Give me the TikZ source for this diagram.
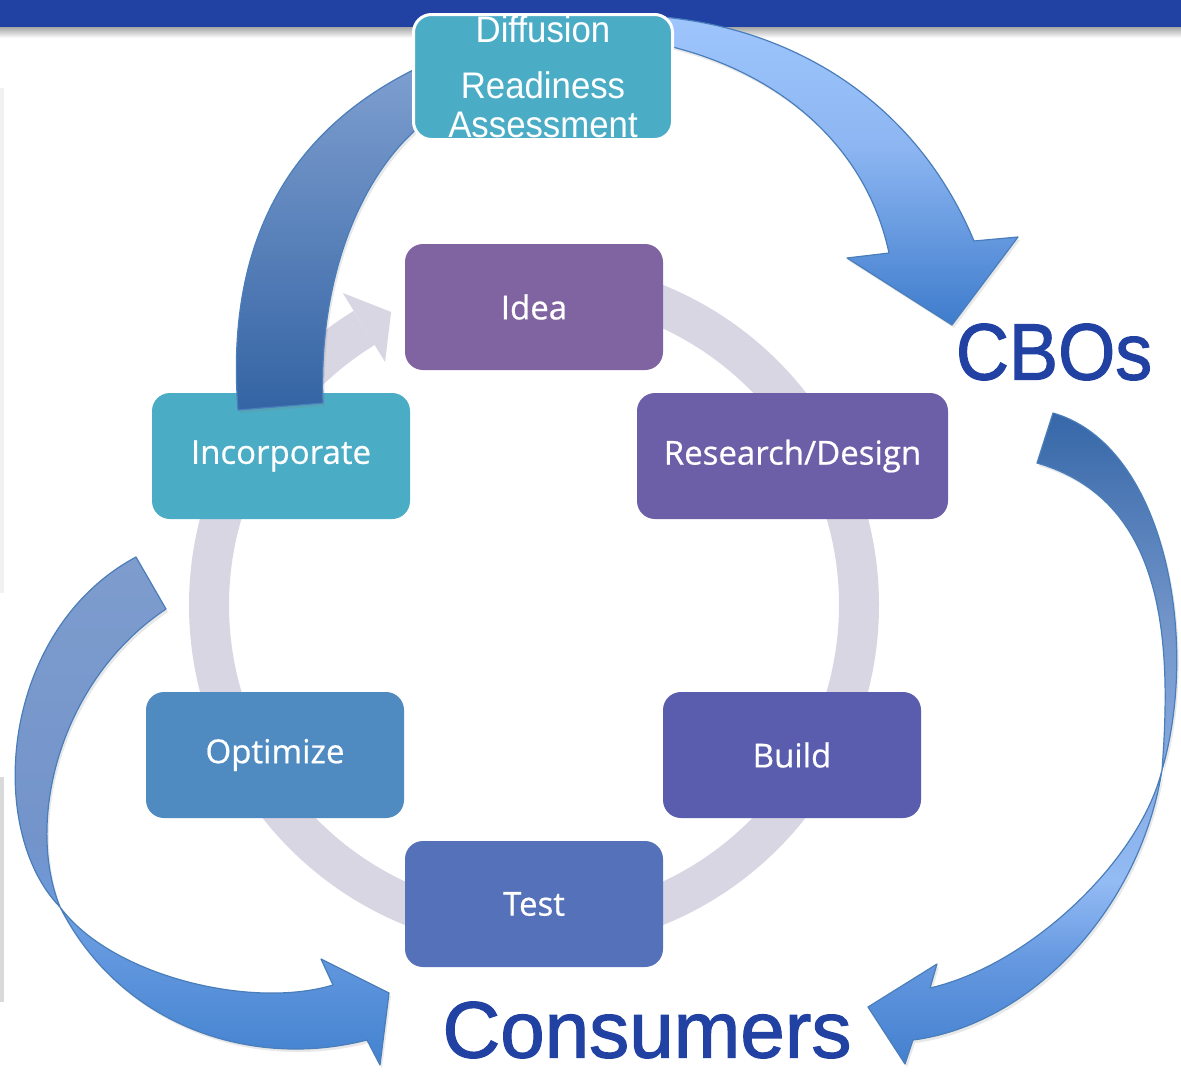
\documentclass[tikz,border=0pt]{standalone}
\usepackage{fontspec}
\usepackage{graphicx}
\newfontfamily\boxfont[FakeBold=0.6]{Open Sans}
\newfontfamily\headfont{Liberation Sans}
\newfontfamily\bigfont[FakeBold=1.5]{Liberation Sans}
\usetikzlibrary{calc,shadows}

\definecolor{barblue}{HTML}{2142A3}
\definecolor{ringgrey}{HTML}{D9D6E4}
\definecolor{ideacol}{HTML}{8064A2}
\definecolor{rdcol}{HTML}{6D5FA7}
\definecolor{buildcol}{HTML}{5A5CAD}
\definecolor{testcol}{HTML}{5571B9}
\definecolor{optcol}{HTML}{4F8BC0}
\definecolor{inccol}{HTML}{4BACC6}
\definecolor{bandline}{HTML}{4A7EBB}
\definecolor{edgeone}{HTML}{F1F1F1}
\definecolor{edgetwo}{HTML}{D9D9D9}
% stops for the ribbon arrows
\definecolor{upbot}{HTML}{3464A4}
\definecolor{uptop}{HTML}{7F9FD0}
\definecolor{cbobot}{HTML}{3E7CCC}
\definecolor{cbomid}{HTML}{8DB6F2}
\definecolor{cbotop}{HTML}{9EC5FC}
\definecolor{contop}{HTML}{3667A8}
\definecolor{conmid}{HTML}{7597CB}
\definecolor{conlight}{HTML}{93BBF4}
\definecolor{conlow}{HTML}{6598E0}
\definecolor{conbot}{HTML}{4480CF}
\definecolor{lfttop}{HTML}{7E9CCD}
\definecolor{lftmid}{HTML}{7394CB}
\definecolor{lftlow}{HTML}{6A9DE2}
\definecolor{lftbot}{HTML}{4281CF}

\pgfdeclareverticalshading{bandup}{100bp}{color(0bp)=(upbot); color(25bp)=(upbot); color(75bp)=(uptop); color(100bp)=(uptop)}
\pgfdeclareverticalshading{bandcbo}{100bp}{color(0bp)=(cbobot); color(25bp)=(cbobot); color(54bp)=(cbomid); color(75bp)=(cbotop); color(100bp)=(cbotop)}
\pgfdeclareverticalshading{bandcons}{100bp}{color(0bp)=(conbot); color(25bp)=(conbot); color(33bp)=(conlow); color(39bp)=(conlight); color(58bp)=(conmid); color(75bp)=(contop); color(100bp)=(contop)}
\pgfdeclareverticalshading{bandleft}{100bp}{color(0bp)=(lftbot); color(25bp)=(lftbot); color(39bp)=(lftlow); color(47bp)=(lftmid); color(75bp)=(lfttop); color(100bp)=(lfttop)}

\newcommand{\slim}[1]{\scalebox{0.94}[1]{#1}}

\begin{document}
\begin{tikzpicture}[x=1pt,y=1pt,
  stage/.style={rectangle,rounded corners=18pt,minimum width=258pt,minimum height=126pt,
    inner sep=0pt,text=white,font=\boxfont\fontsize{33}{40}\selectfont},
  ring/.style={draw=ringgrey,line width=40pt},
  band/.style={draw=bandline,line width=1.2pt,line join=round,
    drop shadow={opacity=0.18,shadow xshift=2pt,shadow yshift=-3pt}},
  big/.style={text=barblue,inner sep=0pt,font=\bigfont\fontsize{80}{80}\selectfont}]
\useasboundingbox (0,0) rectangle (1181,-1072);
\fill[white] (0,0) rectangle (1181,-1072);

% title bar and the two slivers on the left edge
\shade[top color=black!35,bottom color=white] (0,-27) rectangle (1181,-38);
\fill[barblue] (0,0) rectangle (1181,-27);
\fill[edgeone] (0,-88) rectangle (4,-593);
\fill[edgetwo] (0,-777) rectangle (4,-1002);

% grey cycle behind the stages
\coordinate (ctr) at (534,-605);
\draw[ring] ($(ctr)+(90:325)$) arc (90:-238.5:325);
\fill[ringgrey] ($(ctr)+(121.5:366)$) -- ($(ctr)+(116:326)$) -- ($(ctr)+(121.5:285)$) -- cycle;

\node[stage,fill=ideacol] (idea) at (534,-307) {Idea};
\node[stage,fill=rdcol,minimum width=311pt] (resdes) at (792.5,-456) {Research/Design};
\node[stage,fill=buildcol] (build) at (792,-755) {Build};
\node[stage,fill=testcol] (test) at (534,-904) {Test};
\node[stage,fill=optcol] (optim) at (275,-755) {Optimize};
\node[stage,fill=inccol] (incorp) at (281,-456) {Incorporate};

% ribbon arrows
\shade[band,shading=bandup]
  (238,-410) .. controls (225,-240) and (290,-125) .. (430,-62)
  -- (430,-118) .. controls (360,-170) and (318,-280) .. (323,-403)
  -- cycle;
\shade[band,shading=bandleft]
  (136,-557) .. controls (0,-630) and (-15,-830) .. (60,-907)
  .. controls (110,-975) and (250,-1010) .. (333,-985)
  -- (321,-959) -- (389,-993) -- (380,-1065) -- (367,-1040)
  .. controls (250,-1070) and (120,-1025) .. (60,-907)
  .. controls (25,-820) and (60,-680) .. (166,-609)
  -- cycle;
\shade[band,shading=bandcons]
  (1053,-413) .. controls (1165,-445) and (1200,-640) .. (1162,-770)
  .. controls (1140,-860) and (1030,-965) .. (930,-988)
  -- (937,-964) -- (868,-1007) -- (905,-1064) -- (913,-1040)
  .. controls (1030,-1025) and (1140,-910) .. (1162,-770)
  .. controls (1172,-640) and (1165,-500) .. (1037,-463)
  -- cycle;
\shade[band,shading=bandcbo]
  (650,-16) .. controls (790,-25) and (915,-100) .. (974,-241)
  -- (1018,-237) -- (952,-325) -- (847,-258) -- (889,-253)
  .. controls (865,-140) and (770,-65) .. (650,-42)
  -- cycle;

\node[stage,fill=inccol,draw=white,line width=3pt,minimum width=259pt,minimum height=125pt,
  align=center,font=\headfont\fontsize{37}{39}\selectfont] (dra) at (543,-77)
  {\slim{Diffusion}\\[17pt]\slim{Readiness}\\\slim{Assessment}};

\node[big] (cbos) at (1054,-352) {\scalebox{0.92}[1]{CBOs}};
\node[big] (cons) at (647,-1030) {Consumers};
\end{tikzpicture}
\end{document}
